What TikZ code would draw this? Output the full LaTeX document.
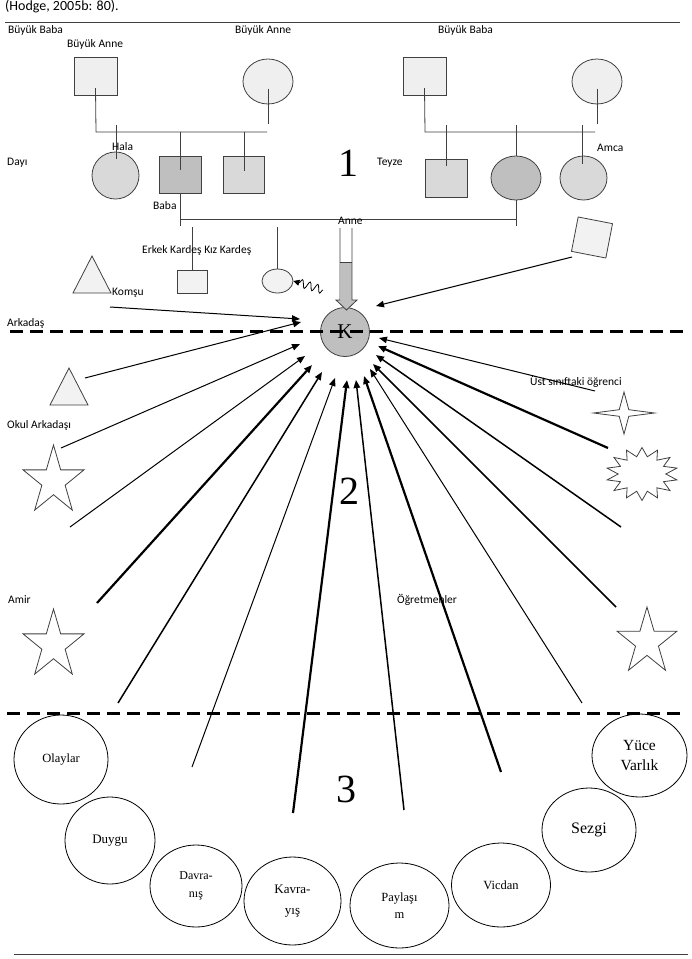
\documentclass[tikz,border=0pt]{standalone}
\usepackage{fontspec}
\setmainfont{Liberation Serif}
\newfontfamily\lab{Carlito}
\usetikzlibrary{arrows.meta,shapes.geometric,decorations.pathmorphing,calc}
\definecolor{gA}{HTML}{EFEFEF}
\definecolor{gB}{HTML}{D9D9D9}
\definecolor{gC}{HTML}{BFBFBF}
\definecolor{gD}{HTML}{F2F2F2}
\definecolor{ln}{HTML}{404040}
\begin{document}
\begin{tikzpicture}[x=1pt,y=-1pt,
  lbl/.style={font=\lab\fontsize{11.5}{13}\selectfont, inner sep=0pt, anchor=west},
  sqbox/.style={draw=ln, line width=0.8pt, inner sep=0pt},
  ov/.style={ellipse, draw=ln, line width=0.8pt, inner sep=0pt},
  fam/.style={line width=0.8pt, draw=ln},
  arr/.style={-{Triangle[length=8pt,width=6.5pt]}, line width=1pt},
  med/.style={arr, line width=1.5pt},
  thk/.style={arr, line width=2.2pt},
  sepline/.style={dash pattern=on 13pt off 7pt, line width=3pt},
  starshape/.style={star, draw=ln, line width=0.8pt, inner sep=0pt, fill=white},
  bub/.style={ellipse, draw=black, line width=0.8pt, inner sep=0pt, align=center},
  big/.style={font=\fontsize{40}{40}\selectfont, inner sep=0pt}
]
\fill[white] (0,0) rectangle (692,959);
\useasboundingbox (0,0) rectangle (692,959);

% header
\node[anchor=base west, font=\lab\fontsize{14}{16}\selectfont, inner sep=0pt] (src) at (5,10) {(Hodge, 2005b: 80).};
\draw[line width=1pt, ln] (5,22) -- (680,22);

% grandparents
\node[sqbox, fill=gA, minimum width=43, minimum height=38] (gf1) at (95.5,76) {};
\node[ov, fill=gA, minimum width=50, minimum height=45] (gm1) at (268,81.5) {};
\node[sqbox, fill=gA, minimum width=43, minimum height=38] (gf2) at (424.5,76) {};
\node[ov, fill=gA, minimum width=50, minimum height=45] (gm2) at (597,81.5) {};

\coordinate (b1l) at (96,132); \coordinate (b1r) at (267,132);
\draw[fam] ($(gf1.center)+(0,12)$) -- (b1l) -- (b1r);
\draw[fam] ($(gm1.center)+(0,7)$) -- ($(gm1.center)+(0,42)$);
\coordinate (b2l) at (425,132); \coordinate (b2r) at (595,132);
\draw[fam] ($(gf2.center)+(0,12)$) -- (b2l) -- (b2r);
\draw[fam] ($(gm2.center)+(0,7)$) -- ($(gm2.center)+(0,42)$);

% children
\node[ov, fill=gB, minimum width=47, minimum height=47] (hala) at (115.5,175.5) {};
\node[sqbox, fill=gC, minimum width=42, minimum height=37] (baba) at (180,174.5) {};
\node[sqbox, fill=gB, minimum width=41, minimum height=37] (amcaL) at (243.5,174.5) {};
\node[sqbox, fill=gB, minimum width=42, minimum height=38] (teyze) at (446,178) {};
\node[ov, fill=gC, minimum width=50, minimum height=44] (anne) at (516,178) {};
\node[ov, fill=gB, minimum width=47, minimum height=44] (amca) at (583.5,178) {};

\draw[fam] (116,125) -- (116,159);
\draw[fam] (180,132) -- (180,170);
\draw[fam] (244,132) -- (244,171);
\draw[fam] (446,125) -- (446,166);
\draw[fam] (516,125) -- (516,156);
\draw[fam] (582,125) -- (582,164);

% parents line
\draw[fam] (baba.south) -- (180,226);
\draw[fam] (180,219) -- (516,219);
\draw[fam] (anne.south) -- (516,226);

% siblings
\draw[fam] (192,227) -- (192,270);
\node[sqbox, fill=gD, minimum width=30, minimum height=23] (erkek) at (192,281.5) {};
\draw[fam] (277,227) -- (277,269);
\node[ov, fill=gD, minimum width=31, minimum height=24] (kiz) at (277.5,281) {};
\coordinate (wv) at (323,290);
\draw[line width=0.8pt, decorate, decoration={snake, amplitude=4pt, segment length=8pt, post length=5pt}, -{Triangle[length=6pt,width=6pt]}] (wv) -- (kiz.east);

% K and block arrow
\node[circle, draw=ln, line width=0.8pt, fill=gC, minimum size=49, inner sep=0pt, font=\fontsize{21}{21}\selectfont] (K) at (345,332) {K};
\fill[gC] (341,262) rectangle (352,300);
\fill[gC] (336,300) -- (357,300) -- (346.5,310) -- cycle;
\draw[fam] (340,228) -- (340,300) -- (336,300) -- (346.5,310) -- (357,300) -- (352,300) -- (352,228);
\draw[fam] (340,262) -- (352,262);

% other shapes
\draw[fill=gD, draw=ln, line width=0.8pt] (92,256) -- (111,293) -- (73,293) -- cycle;
\draw[fill=gD, draw=ln, line width=0.8pt] (69,368) -- (88,405) -- (50,405) -- cycle;
\node[sqbox, fill=gD, minimum size=35, rotate=-11] (komsuSq) at (592,237.5) {};
\node[starshape, star points=5, star point ratio=2.618, minimum size=72, xscale=0.89] (st1) at (53.5,481) {};
\node[starshape, star points=5, star point ratio=2.618, minimum size=72, xscale=0.89] (st2) at (53.5,645) {};
\node[starshape, star points=5, star point ratio=2.618, minimum size=70, xscale=0.9] (st3) at (647,642) {};
\node[starshape, star points=4, star point ratio=4.5, minimum size=42, xscale=1.45] (st4) at (624,413) {};
\node[starshape, star points=14, star point ratio=1.5, minimum size=53, xscale=1.35] (burst) at (642,474) {};

% arrows
\coordinate (s0) at (110,307); \coordinate (t0) at (300,319);
\coordinate (sR) at (572,257); \coordinate (tR) at (376,306);
\draw[arr] (s0) -- (t0);
\draw[arr] (sR) -- (tR);
\coordinate (a1) at (85,378);  \coordinate (ta1) at (301,322);
\coordinate (a2) at (61,448);  \coordinate (ta2) at (300,344);
\coordinate (a3) at (70,527);  \coordinate (ta3) at (305,356);
\coordinate (a4) at (97,603);  \coordinate (ta4) at (312,365);
\coordinate (a5) at (118,703); \coordinate (ta5) at (322,372);
\coordinate (a6) at (192,767); \coordinate (ta6) at (335,378);
\coordinate (a7) at (293,813); \coordinate (ta7) at (347,380);
\coordinate (b7) at (404,810); \coordinate (tb7) at (356,380);
\coordinate (b6) at (501,772); \coordinate (tb6) at (364,376);
\coordinate (b5) at (582,703); \coordinate (tb5) at (370,369);
\coordinate (b4) at (616,607); \coordinate (tb4) at (373,364);
\coordinate (b3) at (621,527); \coordinate (tb3) at (376,355);
\coordinate (b2) at (608,448); \coordinate (tb2) at (378,346);
\coordinate (b1) at (595,391); \coordinate (tb1) at (379,338);
\draw[arr] (a1) -- (ta1);
\draw[arr] (a2) -- (ta2);
\draw[arr] (a3) -- (ta3);
\draw[thk] (a4) -- (ta4);
\draw[med] (a5) -- (ta5);
\draw[arr] (a6) -- (ta6);
\draw[thk] (a7) -- (ta7);
\draw[med] (b7) -- (tb7);
\draw[thk] (b6) -- (tb6);
\draw[arr] (b5) -- (tb5);
\draw[med] (b4) -- (tb4);
\draw[med] (b3) -- (tb3);
\draw[thk] (b2) -- (tb2);
\draw[arr] (b1) -- (tb1);

% dashed separators
\draw[sepline] (10,331) -- (683,331);
\draw[sepline] (7,713) -- (680,713);

% big numbers
\node[big] (n1) at (348,163) {1};
\node[big] (n2) at (349,491) {2};
\node[big] (n3) at (346,789) {3};

% labels
\node[lbl] (l1) at (8,30) {Büyük Baba};
\node[lbl] (l2) at (67,44) {Büyük Anne};
\node[lbl] (l3) at (235,30) {Büyük Anne};
\node[lbl] (l4) at (438,30) {Büyük Baba};
\node[lbl] (l5) at (112,147) {Hala};
\node[lbl] (l6) at (7,163) {Dayı};
\node[lbl] (l7) at (377,163) {Teyze};
\node[lbl] (l8) at (597,148) {Amca};
\node[lbl] (l9) at (153,206) {Baba};
\node[lbl] (l10) at (338,221) {Anne};
\node[lbl] (l11) at (142,250) {Erkek Kardeş Kız Kardeş};
\node[lbl] (l12) at (112,293) {Komşu};
\node[lbl] (l13) at (7,323) {Arkadaş};
\node[lbl] (l14) at (7,425) {Okul Arkadaşı};
\node[lbl] (l15) at (8,600) {Amir};
\node[lbl] (l16) at (530,382) {Üst sınıftaki öğrenci};
\node[lbl] (l17) at (397,600) {Öğretmenler};

% bottom bubbles
\node[bub, minimum width=94, minimum height=89, font=\fontsize{12.5}{14}\selectfont] (olay) at (61,759.5) {Olaylar};
\node[bub, minimum width=90, minimum height=87, font=\fontsize{13}{14}\selectfont] (duygu) at (110,840.5) {Duygu};
\node[bub, minimum width=92, minimum height=82, font=\fontsize{12}{18}\selectfont] (davra) at (196,886) {Davra-\\nış};
\node[bub, minimum width=97, minimum height=88, font=\fontsize{13}{21}\selectfont] (kavra) at (292.5,901) {Kavra-\\yış};
\node[bub, minimum width=99, minimum height=85, font=\fontsize{12.5}{17}\selectfont] (pay) at (399.5,905.5) {Paylaşı\\m};
\node[bub, minimum width=99, minimum height=84, font=\fontsize{12.5}{14}\selectfont] (vic) at (501,885) {Vicdan};
\node[bub, minimum width=94, minimum height=84, font=\fontsize{16}{17}\selectfont] (sez) at (589,830) {Sezgi};
\node[bub, minimum width=95, minimum height=83, font=\fontsize{15.5}{20}\selectfont] (yuce) at (639.5,755.5) {Yüce\\Varlık};

\draw[line width=1pt, ln] (14,954) -- (688,954);
\end{tikzpicture}
\end{document}
